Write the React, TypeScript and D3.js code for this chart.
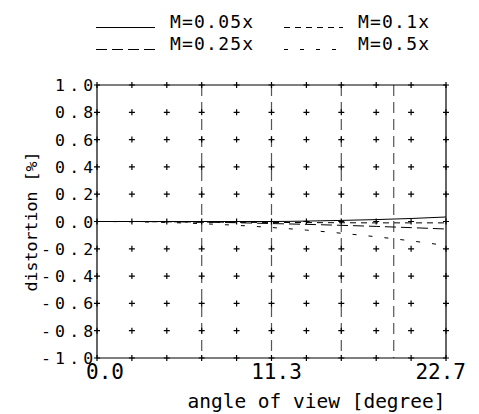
import React from "react";
import * as d3 from "d3";

const angles = [0, 2.27, 4.54, 6.81, 9.08, 11.35, 13.62, 15.89, 18.16, 20.43, 22.7];
const m005 = [0, 0, 0, 0, 0, 0, 0.003, 0.008, 0.014, 0.022, 0.033];
const m01 = [0, 0, -0.002, -0.004, -0.006, -0.007, -0.008, -0.009, -0.01, -0.01, -0.01];
const m025 = [0, 0, -0.002, -0.005, -0.009, -0.015, -0.021, -0.028, -0.036, -0.045, -0.055];
const m05 = [0, -0.002, -0.007, -0.016, -0.028, -0.044, -0.063, -0.086, -0.112, -0.142, -0.176];
const seriesNames = ["M=0.05x", "M=0.1x", "M=0.25x", "M=0.5x"];
const yTicks = [-1.0, -0.8, -0.6, -0.4, -0.2, 0.0, 0.2, 0.4, 0.6, 0.8, 1.0];
const yTickLabels = ["-1.0", "-0.8", "-0.6", "-0.4", "-0.2", "0.0", "0.2", "0.4", "0.6", "0.8", "1.0"];
const xLabelValues = [0, 11.35, 22.7];
const xTickLabels = ["0.0", "11.3", "22.7"];
const markerLines = [6.81, 11.35, 15.89, 19.3];

const W = 479;
const H = 414;
const FONT = "'DejaVu Sans Mono', monospace";

export default function App() {
  const x = d3.scaleLinear().domain([0, 22.7]).range([97, 446]);
  const y = d3.scaleLinear().domain([-1, 1]).range([358, 85]);
  const [x0, x1] = x.range();
  const [yb, yt] = y.range();

  const series = [m005, m01, m025, m05];
  const dashes = [undefined, "6,5", "11,5", "4,12"];
  const line = d3
    .line<number>()
    .x((_, i) => x(angles[i]))
    .y((d) => y(d))
    .curve(d3.curveMonotoneX);

  const pluses: JSX.Element[] = [];
  angles.forEach((a, i) =>
    yTicks.forEach((v, j) => {
      const px = x(a);
      const py = y(v);
      pluses.push(
        <path
          key={`p${i}-${j}`}
          d={`M${px - 3},${py}H${px + 3}M${px},${py - 3}V${py + 3}`}
          stroke="#000"
          strokeWidth={1.2}
        />
      );
    })
  );

  const legendCols = [96, 284];
  const legendRows = [27.5, 49.5];

  return (
    <svg
      width={W}
      height={H}
      style={{ position: "absolute", left: 0, top: 0, background: "#fff" }}
    >
      {markerLines.map((a, i) => (
        <line
          key={`m${i}`}
          x1={x(a)}
          x2={x(a)}
          y1={yt}
          y2={yb}
          stroke="#555"
          strokeWidth={1.2}
          strokeDasharray="11,6"
        />
      ))}
      <path
        d={`M${x0},${yt}H${x1}V${yb}H${x0}Z`}
        fill="none"
        stroke="#000"
        strokeWidth={1.2}
      />
      {pluses}
      {series.map((s, i) => (
        <path
          key={`s${i}`}
          d={line(s) || ""}
          fill="none"
          stroke="#000"
          strokeWidth={1}
          strokeDasharray={dashes[i]}
        />
      ))}
      {yTicks.map((v, i) => (
        <text
          key={`yl${i}`}
          x={x0 + 0.5}
          y={y(v) + 6}
          textAnchor="end"
          fontFamily={FONT}
          fontSize={16.5}
          letterSpacing={4.2}
          fill="#000"
        >
          {yTickLabels[i]}
        </text>
      ))}
      {xLabelValues.map((v, i) => (
        <text
          key={`xl${i}`}
          x={i === 0 ? x(v) - 11 : i === 1 ? x(v) + 5 : x(v) + 20}
          y={yb + 21}
          textAnchor={i === 0 ? "start" : i === 1 ? "middle" : "end"}
          fontFamily={FONT}
          fontSize={21}
          fill="#000"
        >
          {xTickLabels[i]}
        </text>
      ))}
      <text
        x={(x0 + x1) / 2 + 45}
        y={yb + 50}
        textAnchor="middle"
        fontFamily={FONT}
        fontSize={20}
        textLength={258}
        lengthAdjust="spacingAndGlyphs"
        fill="#000"
      >
        angle of view [degree]
      </text>
      <text
        transform={`translate(37,${(yt + yb) / 2}) rotate(-90)`}
        textAnchor="middle"
        fontFamily={FONT}
        fontSize={16}
        textLength={140}
        lengthAdjust="spacingAndGlyphs"
        fill="#000"
      >
        distortion [%]
      </text>
      {seriesNames.map((name, i) => {
        const col = i === 0 || i === 2 ? 0 : 1;
        const row = i < 2 ? 0 : 1;
        const lx = legendCols[col];
        const ly = legendRows[row];
        return (
          <g key={`lg${i}`}>
            <line
              x1={lx}
              x2={lx + 59}
              y1={ly}
              y2={ly}
              stroke="#000"
              strokeWidth={1}
              strokeDasharray={dashes[i]}
            />
            <text
              x={lx + 74}
              y={ly}
              fontFamily={FONT}
              fontSize={18}
              letterSpacing={1.2}
              fill="#000"
            >
              {name}
            </text>
          </g>
        );
      })}
    </svg>
  );
}
